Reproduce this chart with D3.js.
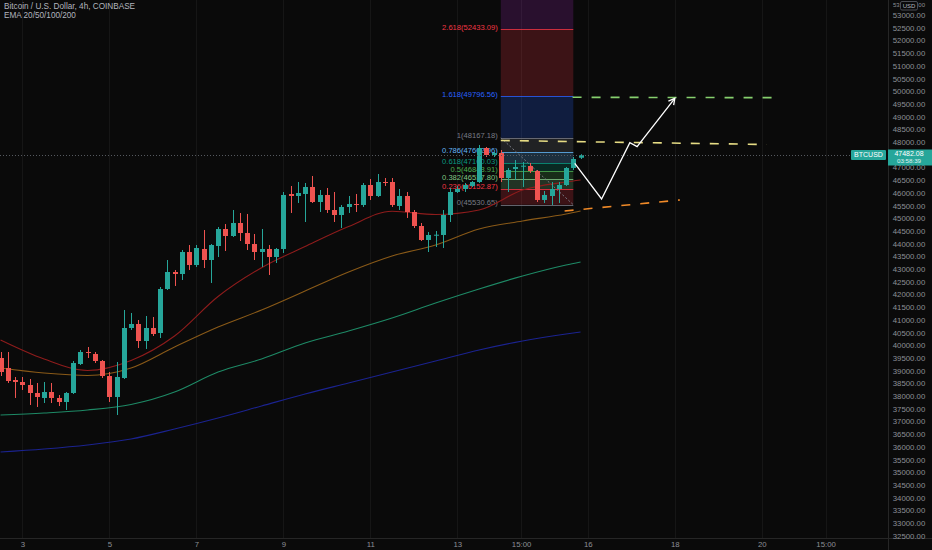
<!DOCTYPE html>
<html><head><meta charset="utf-8">
<script src="https://cdn.jsdelivr.net/npm/d3@7/dist/d3.min.js"></script>
<style>html,body{margin:0;padding:0;background:#0a0a0a;overflow:hidden}svg{display:block}</style>
</head><body>
<svg id="c" width="932" height="550"></svg>
<script>
// ---------- DATA ----------
const titleText = "Bitcoin / U.S. Dollar, 4h, COINBASE";
const subtitleText = "EMA 20/50/100/200";
const firstBar = -3; // bar index of first candle (bar 0 = day 3, 00:00)
const candleOpen = [39496,39103,38630,38551,38433,38118,37922,38157,37922,37764,38118,39260,39732,39654,39378,38787,37961,38709,40677,40835,40165,40677,40480,42213,42882,42803,43669,43157,43788,43354,43905,44575,44299,44811,44417,43984,43669,43788,43472,43788,45953,45874,45953,46229,45638,45914,45323,45126,45441,45559,45520,46307,45874,46425,46425,45480,45874,45244,44693,44142,44319,44339,45126,46032,46150,46268,46425,47764,47488,47567,46583,46937,47035,47055,46858,45717,45874,46150,46307,46977,47380];
const candleHigh = [39732,39732,38748,38748,38669,38512,38551,38512,38039,38157,39378,39811,39929,39732,39417,38945,39339,41386,41268,40992,41150,41110,42291,43354,42961,43748,43945,43945,44535,43984,44653,44771,45323,45205,45166,44378,44575,43945,43827,46032,46268,46425,46386,46662,46110,46189,46032,45520,45874,45953,46386,46543,46740,46583,46583,46150,46032,45323,44811,44457,44496,45323,46189,46268,46386,46465,47882,47803,47606,47685,46977,47291,47213,47173,46898,46071,46425,46425,47016,47410,47520];
const candleLow = [38787,38513,37922,38237,37646,37567,37724,37724,37606,37449,38078,39220,39496,39299,38709,37764,37252,38669,40599,39890,39851,40362,40283,42173,42331,42567,42961,43079,43039,42449,43472,43709,44260,44102,43748,43354,43079,42764,43236,43630,45205,45599,44850,45599,45244,45205,44850,44614,45205,45244,45441,45717,45835,46268,45441,45323,45008,44614,44102,43669,43866,43827,44850,45992,46032,46229,46386,47410,47410,46425,46032,46504,46229,46780,45638,45599,45520,45599,46268,46898,47330];
const candleClose = [38945,38591,38551,38433,38118,37961,38157,37922,37764,38118,39299,39732,39693,39378,38787,37961,38748,40677,40835,40165,40677,40441,42213,42882,42803,43669,43157,43827,43354,43945,44575,44299,44811,44417,43984,43669,43788,43472,43788,45914,45874,45992,46229,45638,45914,45323,45126,45441,45559,45520,46307,45874,46425,46386,45520,45874,45244,44693,44142,44339,44350,45126,46032,46150,46307,46425,47764,47488,47567,46583,46898,47016,47067,46858,45717,45914,46150,46307,46977,47331,47482.08];

const emaBars = [-3,3,9,15,21,27,33,39,45,51,57,63,69,75,77];
const ema20  = [40205,39457,39004,39398,40362,41917,43051,43886,44673,45276,45146,45323,46110,46425,46504];
const ema50  = [39103,38906,38808,39103,39929,40716,41386,42134,42882,43512,43945,44575,44890,45166,45284];
const ema100 = [37252,37331,37449,37666,38158,38945,39457,40087,40559,41071,41661,42213,42724,43157,43276];
const ema200 = [35795,35913,36071,36307,36701,37134,37606,38079,38512,38945,39378,39811,40165,40441,40520];

const fibStartBar = 66, fibEndBar = 76;
const fibLevels = ["0","0.236","0.382","0.5","0.618","0.786","1","1.618","2.618","3.618"];
const fibPrices = [45530.65,46152.87,46537.80,46848.91,47160.03,47602.96,48167.18,49796.56,52433.09,55069.62];
const fibColors = ["#787b86","#f23645","#81c784","#4caf50","#089981","#64b5f6","#787b86","#2962ff","#f23645","#9c27b0"];

const yellowLineBars = [66, 102.7], yellowLinePrices = [48059, 47902];
const greenLineBars = [75.9, 103.8], greenLinePrices = [49760, 49745];
const orangeLineBars = [74.8, 90.7], orangeLinePrices = [45284, 45717];
const projBars = [76.2, 79.9, 83.8, 84.8, 90.0];
const projPrices = [47161, 45756, 47974, 47816, 49720];

const lastPrice = 47482.08, countdown = "03:58:39", symbolLabel = "BTCUSD";
const xTickBars = [0,12,24,36,48,60,68.8,78,90,102,110.8];
const xTickLabels = ["3","5","7","9","11","13","15:00","16","18","20","15:00"];
const yTickMin = 32500, yTickMax = 53500, yTickStep = 500;

// ---------- LAYOUT ----------
const W = 932, H = 550, plotW = 888, plotH = 538;
const BG = "#0a0a0a";
const svg = d3.select("#c");
const x = d3.scaleLinear().domain([0, 100]).range([22.3, 22.3 + 725]);
const y = d3.scaleLinear().domain([53000, 32500]).range([15, 535.7]);
const upC = "#26a69a", dnC = "#ef5350";
const FONT = "'Liberation Sans', Arial, sans-serif";

svg.append("rect").attr("width", W).attr("height", H).attr("fill", BG);
svg.append("defs").append("clipPath").attr("id", "plot")
  .append("rect").attr("width", plotW).attr("height", plotH);
const g = svg.append("g").attr("clip-path", "url(#plot)");

// grid
g.selectAll(".vg").data(xTickBars).join("line")
  .attr("x1", d => Math.round(x(d)) + 0.5).attr("x2", d => Math.round(x(d)) + 0.5)
  .attr("y1", 0).attr("y2", plotH).attr("stroke", "#161616").attr("stroke-width", 1);

// fib fills
const fx0 = x(fibStartBar), fx1 = x(fibEndBar);
for (let k = 0; k < fibLevels.length - 1; k++) {
  const ya = y(fibPrices[k + 1]), yb = y(fibPrices[k]);
  g.append("rect").attr("x", fx0).attr("width", fx1 - fx0)
    .attr("y", Math.min(ya, yb)).attr("height", Math.abs(yb - ya))
    .attr("fill", fibColors[k + 1]).attr("fill-opacity", 0.22);
}
fibLevels.forEach((lv, k) => {
  const yy = Math.round(y(fibPrices[k])) + 0.5;
  g.append("line").attr("x1", fx0).attr("x2", fx1).attr("y1", yy).attr("y2", yy)
    .attr("stroke", fibColors[k]).attr("stroke-width", 1).attr("stroke-opacity", 0.8);
  if (fibPrices[k] < 53600) {
    g.append("text").attr("x", fx0 - 3).attr("y", y(fibPrices[k]) - 1.5)
      .attr("text-anchor", "end").attr("dominant-baseline", "middle")
      .attr("font-family", FONT).attr("font-size", 7.6).attr("fill", fibColors[k])
      .text(lv + "(" + fibPrices[k].toFixed(2) + ")");
  }
});
// fib trend (diagonal)
g.append("line").attr("x1", x(fibStartBar)).attr("y1", y(fibPrices[6]))
  .attr("x2", x(fibEndBar)).attr("y2", y(fibPrices[0]))
  .attr("stroke", "#787b86").attr("stroke-width", 1).attr("stroke-dasharray", "2,2");

// EMA lines
const emaLine = d3.line().x((d, i) => x(emaBars[i])).y(d => y(d)).curve(d3.curveMonotoneX);
[[ema200, "#1b2390"], [ema100, "#1e8a66"], [ema50, "#8a5a18"], [ema20, "#8e1c1c"]].forEach(([arr, col]) => {
  g.append("path").attr("d", emaLine(arr)).attr("fill", "none").attr("stroke", col).attr("stroke-width", 1.1);
});

// candles
const bars = candleOpen.map((o, i) => ({ b: firstBar + i, o, h: candleHigh[i], l: candleLow[i], c: candleClose[i] }));
const cg = g.append("g");
cg.selectAll(".wick").data(bars).join("line")
  .attr("x1", d => Math.round(x(d.b)) + 0.5).attr("x2", d => Math.round(x(d.b)) + 0.5)
  .attr("y1", d => y(d.h)).attr("y2", d => y(d.l))
  .attr("stroke", d => d.c >= d.o ? upC : dnC).attr("stroke-width", 1);
cg.selectAll(".body").data(bars).join("rect")
  .attr("x", d => Math.round(x(d.b)) - 2).attr("width", 5)
  .attr("y", d => y(Math.max(d.o, d.c)))
  .attr("height", d => Math.max(1, Math.abs(y(d.o) - y(d.c))))
  .attr("fill", d => d.c >= d.o ? upC : dnC);

// dashed trend lines
function seg(bs, ps, col, dash) {
  g.append("line").attr("x1", x(bs[0])).attr("y1", y(ps[0])).attr("x2", x(bs[1])).attr("y2", y(ps[1]))
    .attr("stroke", col).attr("stroke-width", 1.6).attr("stroke-dasharray", dash);
}
seg(yellowLineBars, yellowLinePrices, "#e6dc84", "9,10");
seg(greenLineBars, greenLinePrices, "#86d06e", "9,10");
seg(orangeLineBars, orangeLinePrices, "#f08a28", "9,10");

// projection path
const pPts = projBars.map((b, i) => [x(b), y(projPrices[i])]);
g.append("path").attr("d", d3.line()(pPts)).attr("fill", "none").attr("stroke", "#ffffff").attr("stroke-width", 1.3);
const n = pPts.length, tip = pPts[n - 1], prev = pPts[n - 2];
const ang = Math.atan2(tip[1] - prev[1], tip[0] - prev[0]);
const L = 7, sp = 0.5;
const b1 = [tip[0] - L * Math.cos(ang - sp), tip[1] - L * Math.sin(ang - sp)];
const b2 = [tip[0] - L * Math.cos(ang + sp), tip[1] - L * Math.sin(ang + sp)];
g.append("path").attr("d", d3.line()([b1, tip, b2])).attr("fill", "none").attr("stroke", "#ffffff").attr("stroke-width", 1.3);

// current price line
const yp = Math.round(y(lastPrice)) + 0.5;
svg.append("line").attr("x1", 0).attr("x2", 851).attr("y1", yp).attr("y2", yp)
  .attr("stroke", "#55595f").attr("stroke-width", 1).attr("stroke-dasharray", "1,2");

// axes borders
svg.append("line").attr("x1", plotW + 0.5).attr("x2", plotW + 0.5).attr("y1", 0).attr("y2", H).attr("stroke", "#262626");
svg.append("line").attr("x1", 0).attr("x2", W).attr("y1", plotH + 0.5).attr("y2", plotH + 0.5).attr("stroke", "#262626");

// right axis (53500 tick sits under the USD badge, as in the reference; shown here below it)
const yTickVals = d3.range(yTickMin, yTickMax + 1, yTickStep).filter(v => Math.abs(y(v) - y(lastPrice)) > 10 && y(v) > 8);
const ya = svg.append("g").attr("transform", `translate(${plotW},0)`)
  .call(d3.axisRight(y).tickValues(yTickVals).tickFormat(d3.format(".2f")).tickSize(0).tickPadding(21));
ya.select(".domain").remove();
ya.selectAll("text").attr("font-family", FONT).attr("font-size", 7.8).attr("fill", "#8c8f96").attr("text-anchor", "middle");

// bottom axis
const xa = svg.append("g").attr("transform", `translate(0,${plotH})`)
  .call(d3.axisBottom(x).tickValues(xTickBars).tickFormat((d, i) => xTickLabels[i]).tickSize(0).tickPadding(3));
xa.select(".domain").remove();
xa.selectAll("text").attr("font-family", FONT).attr("font-size", 7.8).attr("fill", "#8c8f96");

// USD box with the 53500 tick peeking around it
svg.append("text").attr("x", 893).attr("y", 5.5).attr("dominant-baseline", "middle")
  .attr("font-family", FONT).attr("font-size", 6).attr("fill", "#8c8f96").text("53");
svg.append("text").attr("x", 925).attr("y", 5.5).attr("text-anchor", "end").attr("dominant-baseline", "middle")
  .attr("font-family", FONT).attr("font-size", 6).attr("fill", "#8c8f96").text("00");
svg.append("rect").attr("x", 900.5).attr("y", 1.5).attr("width", 17).attr("height", 8.5)
  .attr("fill", BG).attr("stroke", "#4a4d54").attr("rx", 1.5);
svg.append("text").attr("x", 909).attr("y", 6).attr("text-anchor", "middle").attr("dominant-baseline", "middle")
  .attr("font-family", FONT).attr("font-size", 6).attr("fill", "#b2b5be").text("USD");

// symbol + price labels
svg.append("rect").attr("x", 851).attr("y", yp - 5.5).attr("width", 35).attr("height", 10).attr("fill", upC).attr("rx", 1);
svg.append("text").attr("x", 868.5).attr("y", yp).attr("text-anchor", "middle").attr("dominant-baseline", "middle")
  .attr("font-family", FONT).attr("font-size", 7).attr("fill", "#ffffff").text(symbolLabel);
svg.append("rect").attr("x", 888).attr("y", yp - 6).attr("width", 44).attr("height", 16).attr("fill", upC);
svg.append("text").attr("x", 909).attr("y", yp - 1.2).attr("text-anchor", "middle").attr("dominant-baseline", "middle")
  .attr("font-family", FONT).attr("font-size", 7).attr("fill", "#ffffff").text(d3.format(".2f")(lastPrice));
svg.append("text").attr("x", 909).attr("y", yp + 5.6).attr("text-anchor", "middle").attr("dominant-baseline", "middle")
  .attr("font-family", FONT).attr("font-size", 6.2).attr("fill", "#e0f2f1").text(countdown);

// title
svg.append("text").attr("x", 4).attr("y", 7).attr("dominant-baseline", "middle")
  .attr("font-family", FONT).attr("font-size", 8.2).attr("fill", "#b2b5be").text(titleText);
svg.append("text").attr("x", 4).attr("y", 15.5).attr("dominant-baseline", "middle")
  .attr("font-family", FONT).attr("font-size", 8.2).attr("fill", "#b2b5be").text(subtitleText);
</script>
</body></html>
